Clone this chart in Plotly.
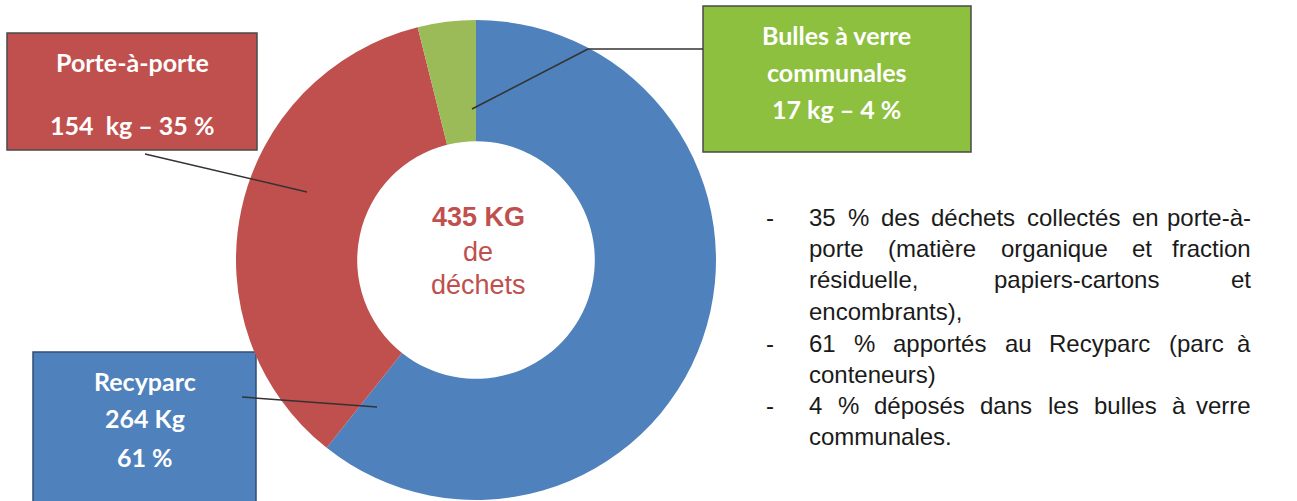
import plotly.graph_objects as go

# ---------------- data ----------------
categories = ["Recyparc", "Porte-à-porte", "Bulles à verre communales"]
values_kg = [264, 154, 17]
percents = [61, 35, 4]
total_label = "435 KG"
center_sub = ["de", "déchets"]

box_texts = {
    "Porte-à-porte": ["Porte-à-porte", "", "154  kg – 35 %"],
    "Bulles à verre communales": ["Bulles à verre", "communales", "17 kg – 4 %"],
    "Recyparc": ["Recyparc", "264 Kg", "61 %"],
}

bullet_lines = [
    "35 % des déchets collectés en porte-à-",
    "porte (matière organique et fraction",
    "résiduelle, papiers-cartons et",
    "encombrants),",
    "61 % apportés au Recyparc (parc à",
    "conteneurs)",
    "4 % déposés dans les bulles à verre",
    "communales.",
]
justified = [True, True, True, False, True, False, True, False]
dash_lines = [0, 4, 6]

# ---------------- styles / layout ----------------
W, H = 1297, 501
pie_colors = ["#4F81BD", "#C0504D", "#9BBB59"]
box_fill = {"Porte-à-porte": "#C0504D", "Bulles à verre communales": "#8DC03F", "Recyparc": "#4F81BD"}
box_line = {"Porte-à-porte": "#4a4a4a", "Bulles à verre communales": "#4a4a4a", "Recyparc": "#2f4f78"}
box_rect = {  # x0, y0, x1, y1 in pixels (top-left origin)
    "Porte-à-porte": (7, 33, 257, 150),
    "Bulles à verre communales": (703, 6, 971, 152),
    "Recyparc": (33, 352, 256, 520),
}
box_line_y = {
    "Porte-à-porte": [62, 93, 125],
    "Bulles à verre communales": [35, 72, 109],
    "Recyparc": [381, 418, 457],
}
leaders = [
    [(145, 154), (307, 192)],
    [(242, 397), (377, 407)],
    [(703, 49), (588, 49), (472, 109)],
]
text_left, text_right = 807, 1253
line_y = [217, 248, 279, 311, 343, 374, 405, 436]
body_size = 24

# Arial / Liberation Sans advance widths (per 1000 em)
ARIAL = {" ": 278, "%": 889, "(": 333, ")": 333, ",": 278, "-": 333, ".": 278,
         "a": 556, "b": 556, "c": 500, "d": 556, "e": 556, "f": 278, "g": 556, "h": 556,
         "i": 222, "j": 222, "k": 500, "l": 222, "m": 833, "n": 556, "o": 556, "p": 556,
         "q": 556, "r": 333, "s": 500, "t": 278, "u": 556, "v": 500, "w": 722, "x": 500,
         "y": 500, "z": 500, "à": 556, "è": 556, "é": 556, "R": 722}


def text_w(s, size):
    return sum(ARIAL.get(c, 556) for c in s) / 1000 * size


def px(x):
    return x / W


def py(y):
    return 1 - y / H


fig = go.Figure()
cx, cy, r = 476, 260, 240
fig.add_trace(go.Pie(
    labels=categories,
    values=values_kg,
    hole=0.495,
    sort=False,
    direction="clockwise",
    rotation=0,
    marker=dict(colors=pie_colors, line=dict(width=0)),
    textinfo="none",
    hoverinfo="label+value+percent",
    showlegend=False,
    domain=dict(x=[px(cx - r), px(cx + r)], y=[py(cy + r), py(cy - r)]),
))

shapes = []
annotations = []

for name, (x0, y0, x1, y1) in box_rect.items():
    shapes.append(dict(type="rect", xref="paper", yref="paper",
                       x0=px(x0), x1=px(x1), y0=py(y1), y1=py(y0),
                       fillcolor=box_fill[name], line=dict(color=box_line[name], width=1.5),
                       layer="below"))
    xc = (x0 + x1) / 2
    for txt, yy in zip(box_texts[name], box_line_y[name]):
        if not txt:
            continue
        annotations.append(dict(xref="paper", yref="paper", x=px(xc), y=py(yy),
                                text="<b>" + txt + "</b>", showarrow=False,
                                xanchor="center", yanchor="middle",
                                font=dict(family="Lato", size=25, color="white")))

for pts in leaders:
    for (xa, ya), (xb, yb) in zip(pts[:-1], pts[1:]):
        shapes.append(dict(type="line", xref="paper", yref="paper",
                           x0=px(xa), y0=py(ya), x1=px(xb), y1=py(yb),
                           line=dict(color="#333333", width=1.5), layer="above"))

# centre text
annotations.append(dict(xref="paper", yref="paper", x=px(478), y=py(217),
                        text="<b>" + total_label + "</b>", showarrow=False,
                        xanchor="center", yanchor="middle",
                        font=dict(family="Liberation Sans", size=27, color="#C0504D")))
for txt, yy in zip(center_sub, [252, 285]):
    annotations.append(dict(xref="paper", yref="paper", x=px(478), y=py(yy),
                            text=txt, showarrow=False, xanchor="center", yanchor="middle",
                            font=dict(family="Liberation Sans", size=27, color="#C0504D")))

# bullet text, justified
body_font = dict(family="Liberation Sans", size=body_size, color="#1a1a1a")
for i, line in enumerate(bullet_lines):
    words = line.split(" ")
    yy = py(line_y[i])
    if justified[i] and len(words) > 1:
        widths = [text_w(w_, body_size) for w_ in words]
        gap = (text_right - text_left - sum(widths)) / (len(words) - 1)
        x = text_left
        for j, (w_, ww) in enumerate(zip(words, widths)):
            if j == len(words) - 1:
                annotations.append(dict(xref="paper", yref="paper", x=px(text_right), y=yy,
                                        text=w_, showarrow=False, xanchor="right",
                                        yanchor="middle", font=body_font))
            else:
                annotations.append(dict(xref="paper", yref="paper", x=px(x), y=yy,
                                        text=w_, showarrow=False, xanchor="left",
                                        yanchor="middle", font=body_font))
            x += ww + gap
    else:
        annotations.append(dict(xref="paper", yref="paper", x=px(text_left), y=yy,
                                text=line, showarrow=False, xanchor="left",
                                yanchor="middle", font=body_font))
    if i in dash_lines:
        annotations.append(dict(xref="paper", yref="paper", x=px(770), y=yy,
                                text="-", showarrow=False, xanchor="center",
                                yanchor="middle", font=body_font))

fig.update_layout(
    width=W, height=H,
    margin=dict(l=0, r=0, t=0, b=0),
    paper_bgcolor="white", plot_bgcolor="white",
    shapes=shapes, annotations=annotations,
)

fig.write_html("out.html")
